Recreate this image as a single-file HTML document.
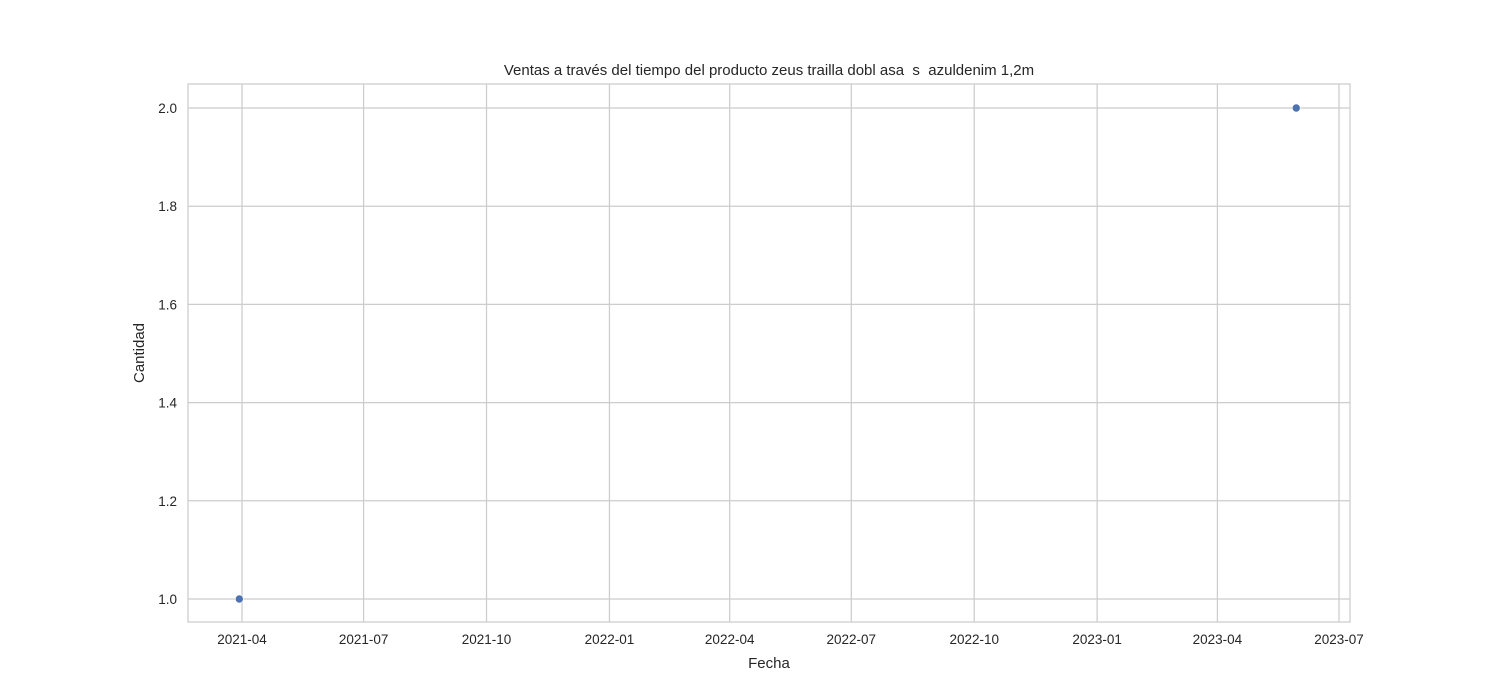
<!DOCTYPE html>
<html><head><meta charset="utf-8"><style>
body{margin:0;background:#fff;}
svg{display:block;font-family:"Liberation Sans","DejaVu Sans",sans-serif;}
</style></head><body>
<svg id="chart" width="1500" height="700">
<text x="769" y="75" text-anchor="middle" font-size="15" fill="#262626" style="white-space:pre" xml:space="preserve">Ventas a través del tiempo del producto zeus trailla dobl asa  s  azuldenim 1,2m</text>
<g id="grid"></g>
<rect x="188" y="84" width="1162" height="538" fill="none" stroke="#cccccc" stroke-width="1.25"/>
<g id="marks"></g>
<text x="769" y="668" text-anchor="middle" font-size="15" fill="#262626">Fecha</text>
<text transform="translate(144,353) rotate(-90)" text-anchor="middle" font-size="15" fill="#262626">Cantidad</text>
</svg>
<script>
const dates=["2021-03-30","2023-05-30"];
const values=[1,2];
const xTicks=["2021-04","2021-07","2021-10","2022-01","2022-04","2022-07","2022-10","2023-01","2023-04","2023-07"];
const yTicks=[1.0,1.2,1.4,1.6,1.8,2.0];
const NS="http://www.w3.org/2000/svg";
const d0=Date.parse("2021-04-01"),d1=Date.parse("2023-07-01");
function xs(d){return 242+(Date.parse(d)-d0)/(d1-d0)*(1339-242);}
function ys(v){return 599-(v-1)*491;}
const grid=document.getElementById('grid'),marks=document.getElementById('marks');
function mk(t,a,p){const e=document.createElementNS(NS,t);for(const k in a)e.setAttribute(k,a[k]);p.appendChild(e);return e;}
xTicks.forEach(t=>{const x=xs(t+"-01");
 const l=mk('line',{x1:x,x2:x,y1:84,y2:622,stroke:'#cccccc','stroke-width':1.25},grid);
 
 
 const tx=mk('text',{x:x,y:644,'text-anchor':'middle','font-size':13.5,fill:'#262626'},grid);
 tx.textContent=t;
 
 
});
yTicks.forEach(v=>{const y=ys(v);
 const l=mk('line',{x1:188,x2:1350,y1:y,y2:y,stroke:'#cccccc','stroke-width':1.25},grid);
 
 
 const tx=mk('text',{x:177,y:y+5,'text-anchor':'end','font-size':13.5,fill:'#262626'},grid);
 tx.textContent=v.toFixed(1);
 
 
});
dates.forEach((d,i)=>{
 const c=mk('circle',{cx:xs(d),cy:ys(values[i]),r:4,fill:'#4c72b0',stroke:'#fff','stroke-width':0.6},marks);
 
 
});
</script>
</body></html>
